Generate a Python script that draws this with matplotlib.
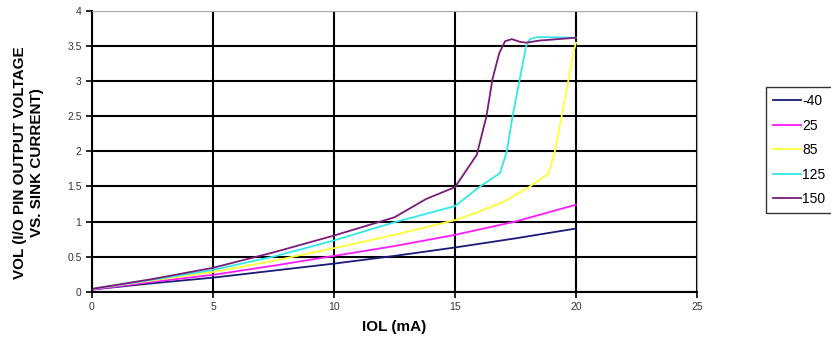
import matplotlib
matplotlib.use('Agg')
import matplotlib.pyplot as plt

plt.rcParams['font.family'] = ['Liberation Sans', 'DejaVu Sans']

# VOL vs IOL curves per temperature
x_m40 = [0, 2.5, 5, 7.5, 10, 12.5, 15, 17.5, 20]
y_m40 = [0.03, 0.12, 0.20, 0.30, 0.40, 0.51, 0.63, 0.76, 0.90]

x_25 = [0, 2.5, 5, 7.5, 10, 12.5, 15, 17.5, 20]
y_25 = [0.03, 0.14, 0.24, 0.37, 0.51, 0.65, 0.81, 1.00, 1.24]

x_85 = [0, 2.5, 5, 7.5, 10, 12.5, 15, 16, 17, 18.1, 18.86, 19.13, 19.41, 19.68, 19.89, 20]
y_85 = [0.04, 0.16, 0.28, 0.44, 0.62, 0.81, 1.02, 1.14, 1.28, 1.50, 1.68, 2.0, 2.5, 3.0, 3.4, 3.55]

x_125 = [0, 2.5, 5, 7.5, 10, 12.5, 15, 16, 16.86, 17.14, 17.38, 17.66, 17.94, 18.1, 18.4, 20]
y_125 = [0.04, 0.17, 0.31, 0.50, 0.73, 0.99, 1.22, 1.49, 1.69, 2.0, 2.5, 3.0, 3.5, 3.6, 3.63, 3.62]

x_150 = [0, 2.5, 5, 7.5, 10, 12.5, 13.8, 15, 15.9, 16.3, 16.55, 16.83, 17.07, 17.35, 17.7, 17.96, 18.5, 20]
y_150 = [0.04, 0.18, 0.34, 0.56, 0.80, 1.06, 1.32, 1.49, 1.95, 2.5, 3.03, 3.4, 3.57, 3.6, 3.56, 3.55, 3.58, 3.62]

labels = ['-40', '25', '85', '125', '150']
colors = ['#1a1a78', '#ff1aff', '#ffff33', '#33e8e8', '#7a1a7a']

fig = plt.figure(figsize=(8.31, 3.46), dpi=100)
ax = fig.add_axes([0.1107, 0.157, 0.728, 0.811])

series = [(x_m40, y_m40), (x_25, y_25), (x_85, y_85), (x_125, y_125), (x_150, y_150)]
for (xs, ys), lab, col in zip(series, labels, colors):
    ax.plot(xs, ys, color=col, linewidth=1.3, label=lab)

ax.set_xlim(0, 25)
ax.set_ylim(0, 4)
ax.set_xticks([0, 5, 10, 15, 20, 25])
ax.set_yticks([0, 0.5, 1, 1.5, 2, 2.5, 3, 3.5, 4])
ax.set_yticklabels(['0', '0.5', '1', '1.5', '2', '2.5', '3', '3.5', '4'])
ax.grid(True, color='black', linewidth=1.5)
ax.set_axisbelow(True)

# spines: black left/bottom, thin grey top/right
ax.spines['left'].set_color('black')
ax.spines['bottom'].set_color('black')
ax.spines['left'].set_linewidth(1.5)
ax.spines['bottom'].set_linewidth(1.5)
ax.spines['top'].set_color('#aaaaaa')
ax.spines['right'].set_color('#aaaaaa')
ax.spines['top'].set_linewidth(0.8)
ax.spines['right'].set_linewidth(0.8)
ax.tick_params(direction='out', length=4, width=1.2, labelsize=7.5, colors='black', labelcolor='#333333')

ax.set_xlabel('IOL (mA)', fontsize=11, fontweight='bold', labelpad=6)
ax.set_ylabel('VOL (I/O PIN OUTPUT VOLTAGE\nVS. SINK CURRENT)', fontsize=11, fontweight='bold')
ax.yaxis.set_label_coords(-0.08, 0.46)

leg = ax.legend(loc='upper left', bbox_to_anchor=(1.114, 0.728), fontsize=10,
                frameon=True, fancybox=False, handlelength=2.0, handletextpad=0.1,
                borderpad=0.5, labelspacing=0.75, borderaxespad=0)
leg.get_frame().set_edgecolor('black')
leg.get_frame().set_linewidth(1.0)

plt.savefig('out.png', dpi=100)
plt.close()
